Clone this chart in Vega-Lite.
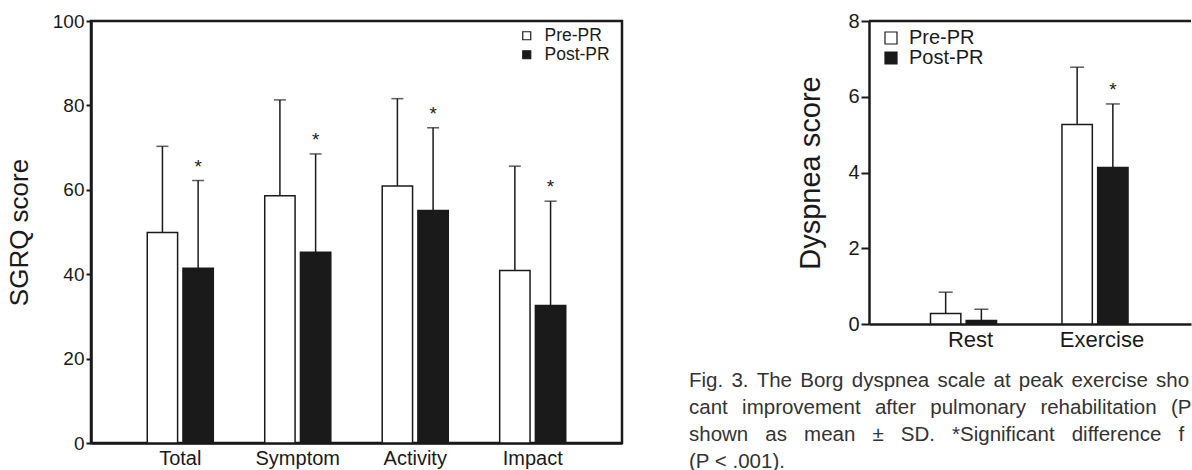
{
  "$schema": "https://vega.github.io/schema/vega-lite/v6.json",
  "background": "white",
  "padding": {"left": 5, "top": 10, "right": 0, "bottom": 0},
  "spacing": 65,
  "resolve": {"scale": {"fill": "independent"}, "legend": {"fill": "independent"}},
  "config": {
    "font": "Liberation Sans",
    "view": {"stroke": null},
    "axis": {
      "labelFont": "Liberation Sans",
      "titleFont": "Liberation Sans",
      "labelColor": "#1a1a1a",
      "titleColor": "#1a1a1a",
      "domainColor": "#1a1a1a",
      "tickColor": "#1a1a1a",
      "titleFontWeight": "normal",
      "grid": false
    },
    "legend": {"labelFont": "Liberation Sans", "labelColor": "#1a1a1a"}
  },
  "datasets": {
    "sgrq": [
      {"category": "Total", "group": "Pre-PR", "mean": 49.9, "upper": 70.3, "star": ""},
      {"category": "Total", "group": "Post-PR", "mean": 41.4, "upper": 62.2, "star": "*"},
      {"category": "Symptom", "group": "Pre-PR", "mean": 58.6, "upper": 81.3, "star": ""},
      {"category": "Symptom", "group": "Post-PR", "mean": 45.2, "upper": 68.5, "star": "*"},
      {"category": "Activity", "group": "Pre-PR", "mean": 60.9, "upper": 81.6, "star": ""},
      {"category": "Activity", "group": "Post-PR", "mean": 55.1, "upper": 74.7, "star": "*"},
      {"category": "Impact", "group": "Pre-PR", "mean": 40.9, "upper": 65.6, "star": ""},
      {"category": "Impact", "group": "Post-PR", "mean": 32.6, "upper": 57.3, "star": "*"}
    ],
    "dyspnea": [
      {"category": "Rest", "group": "Pre-PR", "mean": 0.28, "upper": 0.84, "star": ""},
      {"category": "Rest", "group": "Post-PR", "mean": 0.09, "upper": 0.39, "star": ""},
      {"category": "Exercise", "group": "Pre-PR", "mean": 5.27, "upper": 6.78, "star": ""},
      {"category": "Exercise", "group": "Post-PR", "mean": 4.13, "upper": 5.81, "star": "*"}
    ]
  },
  "hconcat": [
    {
      "width": 531,
      "height": 422,
      "data": {"name": "sgrq"},
      "view": {"stroke": "#1a1a1a", "strokeWidth": 2.5},
      "encoding": {
        "x": {
          "field": "category", "type": "nominal",
          "sort": ["Total", "Symptom", "Activity", "Impact"],
          "scale": {"paddingInner": 0, "paddingOuter": 0.26},
          "axis": {"title": null, "labelAngle": 0, "ticks": false, "labelFontSize": 20, "labelPadding": 5, "domainWidth": 2.5}
        },
        "xOffset": {
          "field": "group", "type": "nominal",
          "sort": ["Pre-PR", "Post-PR"],
          "scale": {"paddingInner": 0.15, "paddingOuter": 0.72}
        }
      },
      "layer": [
        {
          "mark": {"type": "rule", "color": "#1a1a1a", "strokeWidth": 1.5},
          "encoding": {
            "y": {"field": "mean", "type": "quantitative", "title": "SGRQ score"},
            "y2": {"field": "upper"}
          }
        },
        {
          "mark": {"type": "tick", "color": "#1a1a1a", "thickness": 1.5, "size": 12},
          "encoding": {"y": {"field": "upper", "type": "quantitative", "title": "SGRQ score"}}
        },
        {
          "mark": {"type": "bar", "stroke": "#1a1a1a", "strokeWidth": 1.5},
          "encoding": {
            "y": {
              "field": "mean", "type": "quantitative", "title": "SGRQ score",
              "scale": {"domain": [0, 100], "nice": false},
              "axis": {"values": [0, 20, 40, 60, 80, 100], "tickSize": 5, "tickWidth": 2, "domainWidth": 2.5, "labelFontSize": 19, "labelPadding": 2, "titleFontSize": 26, "titlePadding": 20}
            },
            "fill": {
              "field": "group", "type": "nominal",
              "scale": {"domain": ["Pre-PR", "Post-PR"], "range": ["#ffffff", "#1a1a1a"]},
              "legend": {"title": null, "orient": "none", "legendX": 427, "legendY": 6, "padding": 0, "symbolType": "square", "symbolSize": 64, "symbolStrokeColor": "#1a1a1a", "symbolStrokeWidth": 1.2, "labelFontSize": 17.5, "labelOffset": 9, "rowPadding": 0}
            }
          }
        },
        {
          "transform": [{"filter": "datum.star != ''"}],
          "mark": {"type": "text", "fontSize": 19, "baseline": "alphabetic", "dy": -8, "color": "#1a1a1a"},
          "encoding": {
            "y": {"field": "upper", "type": "quantitative", "title": "SGRQ score"},
            "text": {"field": "star"}
          }
        }
      ]
    },
    {
      "width": 322,
      "height": 303,
      "data": {"name": "dyspnea"},
      "title": {
        "text": [
          "Fig.\u2009\u20093.\u2009\u2009The\u2009\u2009Borg\u2009\u2009dyspnea\u2009\u2009scale\u2009\u2009at\u2009\u2009peak\u2009\u2009exercise\u2009\u2009sho",
          "cant\u2002\u2009improvement\u2002\u2009after\u2002\u2009pulmonary\u2002\u2009rehabilitation\u2002\u2009(P",
          "shown\u2002\u2004as\u2002\u2004mean\u2002\u2004±\u2002\u2004SD.\u2002\u2004*Significant\u2002\u2004difference\u2002\u2004f",
          "(P < .001)."
        ],
        "orient": "bottom", "anchor": "start", "frame": "group", "dx": -180, "offset": 21,
        "fontSize": 20.5, "fontWeight": "normal", "color": "#333333", "lineHeight": 27, "font": "Liberation Sans"
      },
      "layer": [
        {
          "encoding": {
            "x": {
              "field": "category", "type": "nominal",
              "sort": ["Rest", "Exercise"],
              "scale": {"paddingInner": 0, "paddingOuter": 0.2245, "align": 0.606},
              "axis": {"title": null, "labelAngle": 0, "ticks": false, "labelFontSize": 22, "labelPadding": 5, "domainWidth": 2.5}
            },
            "xOffset": {
              "field": "group", "type": "nominal",
              "sort": ["Pre-PR", "Post-PR"],
              "scale": {"paddingInner": 0.118, "paddingOuter": 0.74}
            }
          },
          "layer": [
            {
              "mark": {"type": "rule", "color": "#1a1a1a", "strokeWidth": 1.5},
              "encoding": {
                "y": {"field": "mean", "type": "quantitative", "title": "Dyspnea score"},
                "y2": {"field": "upper"}
              }
            },
            {
              "mark": {"type": "tick", "color": "#1a1a1a", "thickness": 1.5, "size": 14},
              "encoding": {"y": {"field": "upper", "type": "quantitative", "title": "Dyspnea score"}}
            },
            {
              "mark": {"type": "bar", "stroke": "#1a1a1a", "strokeWidth": 1.5},
              "encoding": {
                "y": {
                  "field": "mean", "type": "quantitative", "title": "Dyspnea score",
                  "scale": {"domain": [0, 8], "nice": false},
                  "axis": {"values": [0, 2, 4, 6, 8], "tickSize": 8, "tickWidth": 2, "domainWidth": 2.5, "labelFontSize": 20, "labelPadding": 2, "titleFontSize": 29, "titlePadding": 22}
                },
                "fill": {
                  "field": "group", "type": "nominal",
                  "scale": {"domain": ["Pre-PR", "Post-PR"], "range": ["#ffffff", "#1a1a1a"]},
                  "legend": {"title": null, "orient": "none", "legendX": 12, "legendY": 7, "padding": 0, "symbolType": "square", "symbolSize": 144, "symbolStrokeColor": "#1a1a1a", "symbolStrokeWidth": 1.2, "labelFontSize": 20, "labelOffset": 8, "rowPadding": -2}
                }
              }
            },
            {
              "transform": [{"filter": "datum.star != ''"}],
              "mark": {"type": "text", "fontSize": 19, "baseline": "alphabetic", "dy": -8, "color": "#1a1a1a"},
              "encoding": {
                "y": {"field": "upper", "type": "quantitative", "title": "Dyspnea score"},
                "text": {"field": "star"}
              }
            }
          ]
        },
        {
          "data": {"values": [{"top": 8}]},
          "mark": {"type": "rule", "color": "#1a1a1a", "strokeWidth": 2.5},
          "encoding": {"y": {"field": "top", "type": "quantitative", "title": "Dyspnea score"}}
        }
      ]
    }
  ]
}
